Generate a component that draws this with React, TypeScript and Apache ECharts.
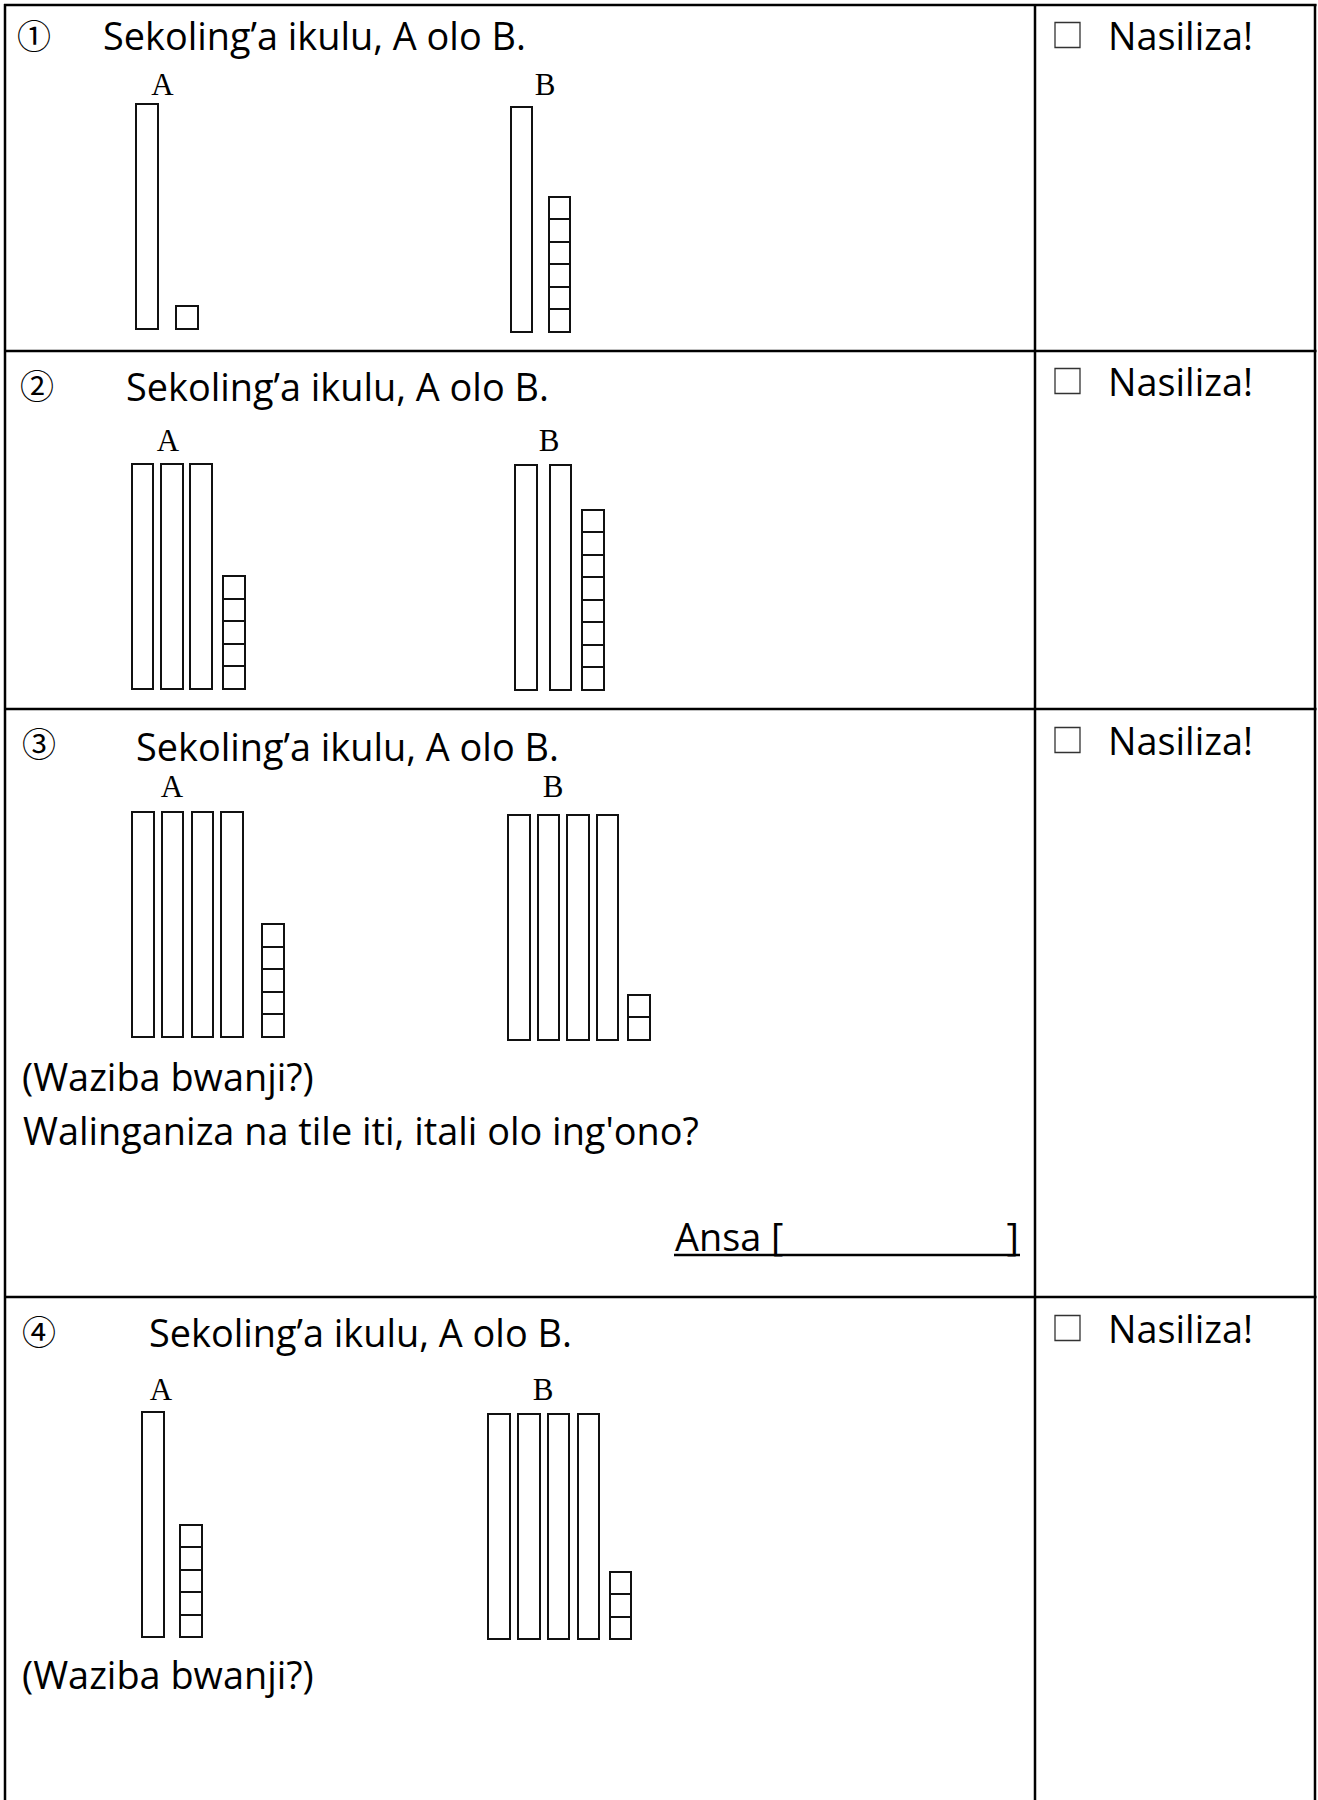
import React, { useEffect, useRef } from "react";
import * as echarts from "echarts";

// ---------- data ----------
const problemMarks = ["①", "②", "③", "④"];
const titleText = "Sekoling’a ikulu, A olo B.";
const doneText = "Nasiliza!";
const groupNames = ["A", "B"];
const tensA = [1, 3, 4, 1];
const onesA = [1, 5, 5, 5];
const tensB = [1, 2, 4, 4];
const onesB = [6, 8, 2, 3];
const questionText = "(Waziba bwanji?)";
const compareText = "Walinganiza na tile iti, itali olo ing'ono?";
const answerText = "Ansa [";

// ---------- layout (positions / sizes only) ----------
const W = 1318;
const H = 1800;
const UNIT_PX = 23; // px per x-axis unit
const GRID_W = 230;
const GRID_H = 225;
const BW = 0.94; // block width in x units
const rowLines = [5, 351, 709, 1297];
const colLines = [5, 1035, 1315];
const titleX = [103, 126, 136, 149];
const titleY = [35, 386, 746, 1332];
const markPos = [[34, 34], [37, 384], [39, 742], [39, 1330]];
const doneY = [35, 381, 740, 1328];
// per problem: [A, B] groups
const groupLayout = [
  [
    { left: 136, bottom: 328.5, step: 1.28, cubeX: 1.74, lx: 162.5, ly: 84 },
    { left: 510.5, bottom: 331.5, step: 1.28, cubeX: 1.66, lx: 545, ly: 84 },
  ],
  [
    { left: 131.8, bottom: 688.5, step: 1.265, cubeX: 3.96, lx: 168, ly: 440 },
    { left: 515, bottom: 689.5, step: 1.51, cubeX: 2.91, lx: 549, ly: 440 },
  ],
  [
    { left: 131.9, bottom: 1036.7, step: 1.296, cubeX: 5.66, lx: 172, ly: 786 },
    { left: 508, bottom: 1039.7, step: 1.283, cubeX: 5.22, lx: 553, ly: 786 },
  ],
  [
    { left: 142, bottom: 1637, step: 1.3, cubeX: 1.67, lx: 161, ly: 1389 },
    { left: 488, bottom: 1639, step: 1.3, cubeX: 5.29, lx: 543, ly: 1389 },
  ],
];

const HAND_FONT = "'Open Sans', 'DejaVu Sans', sans-serif";
const SERIF_FONT = "'Liberation Serif', 'DejaVu Serif', serif";
const MARK_FONT = "'Noto Sans CJK JP', 'DejaVu Sans', sans-serif";

function measure(text: string, font: string): number {
  const ctx = document.createElement("canvas").getContext("2d");
  if (!ctx) return text.length * 50;
  ctx.font = font;
  return ctx.measureText(text).width;
}

function buildBlocks(tens: number, ones: number, step: number, cubeX: number) {
  const out: number[][] = [];
  for (let i = 0; i < tens; i++) out.push([i * step, 0, i * step + BW, 10]);
  for (let j = 0; j < ones; j++) out.push([cubeX, j, cubeX + BW, j + 1]);
  return out;
}

export default function App() {
  const ref = useRef<HTMLDivElement>(null);

  useEffect(() => {
    if (!ref.current) return;
    const chart = echarts.init(ref.current, undefined, { renderer: "svg" });

    // fit the handwriting-like font to the reference text widths
    const targets: [string, number][] = [
      [titleText, 414],
      [compareText, 680],
      [doneText, 146],
      [questionText, 296],
    ];
    let sumM = 0;
    let sumT = 0;
    targets.forEach(([t, w]) => {
      sumM += measure(t, `100px ${HAND_FONT}`);
      sumT += w;
    });
    const fs = Math.max(20, Math.min(44, (100 * sumT) / sumM));

    const grids: any[] = [];
    const xAxes: any[] = [];
    const yAxes: any[] = [];
    const series: any[] = [];
    const graphics: any[] = [];

    const renderItem = (params: any, api: any) => {
      const a = api.coord([api.value(0), api.value(3)]);
      const b = api.coord([api.value(2), api.value(1)]);
      const x0 = Math.round(a[0]);
      const y0 = Math.round(a[1]);
      const x1 = Math.round(b[0]);
      const y1 = Math.round(b[1]);
      return {
        type: "rect",
        shape: { x: x0, y: y0, width: x1 - x0, height: y1 - y0 },
        style: { fill: "#ffffff", stroke: "#111111", lineWidth: 2 },
      };
    };

    const textEl = (text: string, x: number, y: number, font: string, size: number, align = "left") => ({
      type: "text",
      x,
      y,
      silent: true,
      style: {
        text,
        fontSize: size,
        fontFamily: font,
        fill: "#000000",
        align,
        verticalAlign: "middle",
        textAlign: align,
        textVerticalAlign: "middle",
      },
    });

    problemMarks.forEach((mark, p) => {
      const counts = [
        [tensA[p], onesA[p]],
        [tensB[p], onesB[p]],
      ];
      groupNames.forEach((name, g) => {
        const L = groupLayout[p][g];
        const idx = grids.length;
        grids.push({ left: L.left, top: L.bottom - GRID_H, width: GRID_W, height: GRID_H });
        xAxes.push({ type: "value", gridIndex: idx, min: 0, max: GRID_W / UNIT_PX, show: false });
        yAxes.push({ type: "value", gridIndex: idx, min: 0, max: 10, show: false });
        series.push({
          type: "custom",
          name: `${mark} ${name}`,
          xAxisIndex: idx,
          yAxisIndex: idx,
          coordinateSystem: "cartesian2d",
          clip: false,
          silent: true,
          encode: { x: [0, 2], y: [1, 3] },
          data: buildBlocks(counts[g][0], counts[g][1], L.step, L.cubeX),
          renderItem,
        });
        graphics.push(textEl(name, L.lx, L.ly, SERIF_FONT, 31, "center"));
      });

      graphics.push(textEl(mark, markPos[p][0], markPos[p][1], MARK_FONT, 34, "center"));
      graphics.push(textEl(titleText, titleX[p], titleY[p], HAND_FONT, fs));
      graphics.push({
        type: "rect",
        silent: true,
        shape: { x: 1055, y: doneY[p] - 12.5, width: 25, height: 25 },
        style: { fill: "none", stroke: "#333333", lineWidth: 1.3 },
      });
      graphics.push(textEl(doneText, 1108, doneY[p], HAND_FONT, fs));
    });

    // row 3 extra texts
    graphics.push(textEl(questionText, 22, 1076, HAND_FONT, fs));
    graphics.push(textEl(compareText, 23, 1130, HAND_FONT, fs));
    graphics.push(textEl(answerText, 675, 1236, HAND_FONT, fs));
    graphics.push(textEl("]", 1019, 1236, HAND_FONT, fs, "right"));
    graphics.push({
      type: "line",
      silent: true,
      shape: { x1: 674, y1: 1255, x2: 1020, y2: 1255 },
      style: { stroke: "#000000", lineWidth: 2.5 },
    });
    // row 4 extra text
    graphics.push(textEl(questionText, 22, 1674, HAND_FONT, fs));

    // table lines
    rowLines.forEach((y) =>
      graphics.push({
        type: "line",
        silent: true,
        shape: { x1: 4, y1: y, x2: 1316.5, y2: y },
        style: { stroke: "#000000", lineWidth: 2.5 },
      })
    );
    colLines.forEach((x) =>
      graphics.push({
        type: "line",
        silent: true,
        shape: { x1: x, y1: 4, x2: x, y2: H },
        style: { stroke: "#000000", lineWidth: 2.5 },
      })
    );

    chart.setOption({
      animation: false,
      backgroundColor: "#ffffff",
      grid: grids,
      xAxis: xAxes,
      yAxis: yAxes,
      series,
      graphic: { elements: graphics },
    });

    return () => chart.dispose();
  }, []);

  return (
    <div
      ref={ref}
      style={{ position: "absolute", left: 0, top: 0, width: W, height: H, background: "#ffffff" }}
    />
  );
}
